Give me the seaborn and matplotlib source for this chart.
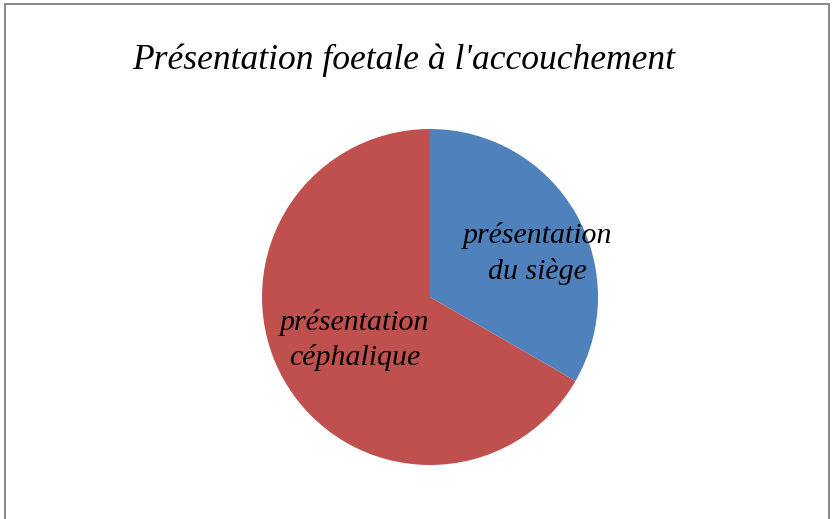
import matplotlib
matplotlib.use("Agg")
import matplotlib.pyplot as plt
import seaborn as sns
from matplotlib.patches import Rectangle

# -------------------- DATA --------------------
title = "Présentation foetale à l'accouchement"
categories = ["présentation\ndu siège", "présentation\ncéphalique"]
values = [1, 2]
colors = ["#4F81BD", "#C0504D"]

# -------------------- STYLE --------------------
sns.set_theme(style="white")
plt.rcParams["font.family"] = ["Liberation Serif", "DejaVu Serif"]

fig = plt.figure(figsize=(8.38, 5.19), dpi=100)
fig.patch.set_facecolor("white")

# outer frame (bottom runs off the picture)
fig.add_artist(Rectangle((5 / 838, -0.05), 824 / 838, 1.05 - 3.5 / 519,
                         transform=fig.transFigure, fill=False,
                         edgecolor="#878787", linewidth=1.4))

fig.text(404 / 838, 1 - 60 / 519, title, ha="center", va="center",
         fontsize=25.6, style="italic", color="black")

# -------------------- PIE --------------------
ax = fig.add_axes([262 / 838, (519 - 465) / 519, 336 / 838, 336 / 519])
wedges, _ = ax.pie(values, colors=colors, startangle=90, counterclock=False,
                   wedgeprops=dict(linewidth=0))
ax.set_xlim(-1, 1)
ax.set_ylim(-1, 1)
ax.set_aspect("equal")

# label spots (axes fraction) for each slice
label_pos = [(0.82, 0.629), (0.275, 0.372)]
for lab, (lx, ly) in zip(categories, label_pos):
    ax.text(lx, ly, lab, transform=ax.transAxes, ha="center", va="center",
            fontsize=21.5, style="italic", color="black", linespacing=1.42)

fig.savefig("out.png", dpi=100)
